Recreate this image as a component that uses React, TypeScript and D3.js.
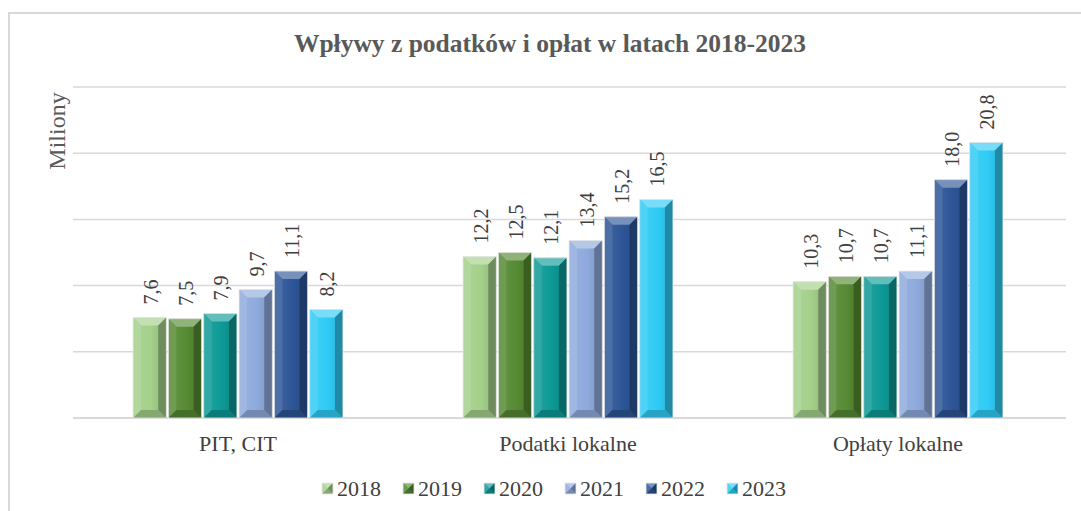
import React from 'react';
import * as d3 from 'd3';

const categories = ['PIT, CIT', 'Podatki lokalne', 'Opłaty lokalne'];
const years = ['2018', '2019', '2020', '2021', '2022', '2023'];
const values2018 = [7.6, 12.2, 10.3];
const values2019 = [7.5, 12.5, 10.7];
const values2020 = [7.9, 12.1, 10.7];
const values2021 = [9.7, 13.4, 11.1];
const values2022 = [11.1, 15.2, 18.0];
const values2023 = [8.2, 16.5, 20.8];
const yTicks = [0, 5, 10, 15, 20, 25];

const series = [values2018, values2019, values2020, values2021, values2022, values2023];
const colors = ['#a3d08a', '#568a33', '#0d9996', '#8eaadc', '#2d5597', '#2fcbf5'];

const W = 1081;
const H = 511;
const font = '"Liberation Serif", "Times New Roman", serif';

const Bar: React.FC<{ x: number; y: number; w: number; h: number; color: string; idx: number }> = ({
  x,
  y,
  w,
  h,
  color,
  idx,
}) => {
  const b = Math.min(8, h / 2, w / 2);
  const c = d3.color(color)!;
  const light = d3.interpolateRgb(color, '#ffffff')(0.35);
  const lighter = d3.interpolateRgb(color, '#ffffff')(0.15);
  const dark = c.darker(0.6).formatHex();
  const darker = c.darker(1.1).formatHex();
  const x2 = x + w;
  const y2 = y + h;
  const pts = (a: number[][]) => a.map((p) => p.join(',')).join(' ');
  return (
    <g>
      <rect x={x} y={y} width={w} height={h} fill={`url(#face${idx})`} />
      <polygon points={pts([[x, y], [x2, y], [x2 - b, y + b], [x + b, y + b]])} fill={light} />
      <polygon points={pts([[x, y], [x + b, y + b], [x + b, y2 - b], [x, y2]])} fill={lighter} />
      <polygon points={pts([[x2, y], [x2, y2], [x2 - b, y2 - b], [x2 - b, y + b]])} fill={darker} />
      <polygon points={pts([[x, y2], [x + b, y2 - b], [x2 - b, y2 - b], [x2, y2]])} fill={dark} />
      <rect x={x} y={y} width={w} height={h} fill="none" stroke="#e8e8e8" strokeWidth={0.8} />
    </g>
  );
};

const App: React.FC = () => {
  const left = 73;
  const right = 1063;
  const top = 87;
  const bottom = 418;

  const x0 = d3.scaleBand<string>().domain(categories).range([left, right]).paddingInner(0.364).paddingOuter(0.182);
  const x1 = d3.scaleBand<string>().domain(years).range([0, x0.bandwidth()]).paddingInner(0.06);
  const y = d3.scaleLinear().domain([0, 25]).range([bottom, top]);

  const legendX = d3.scalePoint<string>().domain(years).range([322, 727]);

  return (
    <svg width={W} height={H} style={{ position: 'absolute', left: 0, top: 0 }} fontFamily={font}>
      <defs>
        {colors.map((col, i) => (
          <linearGradient key={col} id={`face${i}`} x1="0" x2="1" y1="0" y2="0">
            <stop offset="0" stopColor={d3.interpolateRgb(col, '#ffffff')(0.1)} />
            <stop offset="0.55" stopColor={col} />
            <stop offset="1" stopColor={d3.color(col)!.darker(0.4).formatHex()} />
          </linearGradient>
        ))}
      </defs>
      <rect x={0} y={0} width={W} height={H} fill="#ffffff" />
      <path d={`M9,${H} L9,13 L${W},13`} fill="none" stroke="#d9d9d9" strokeWidth={2} />
      <text x={550} y={52} textAnchor="middle" fontSize={25.5} fontWeight="bold" fill="#595959">
        Wpływy  z podatków i opłat w latach 2018-2023
      </text>
      <text transform={`translate(65,131) rotate(-90)`} textAnchor="middle" fontSize={24} fill="#595959">
        Miliony
      </text>
      {yTicks.map((t) => (
        <line key={t} x1={left} x2={1066} y1={y(t)} y2={y(t)} stroke="#d9d9d9" strokeWidth={t === 0 ? 2 : 1.5} />
      ))}
      {categories.map((cat, ci) => (
        <g key={cat}>
          {years.map((yr, si) => {
            const v = series[si][ci];
            const bx = (x0(cat) || 0) + (x1(yr) || 0);
            const by = y(v);
            const bw = x1.bandwidth();
            return (
              <g key={yr}>
                <Bar x={bx} y={by} w={bw} h={y(0) - by} color={colors[si]} idx={si} />
                <text
                  transform={`translate(${bx + bw / 2 + 8},${by - 13}) rotate(-90)`}
                  fontSize={20}
                  fill="#404040"
                >
                  {v.toFixed(1).replace('.', ',')}
                </text>
              </g>
            );
          })}
          <text x={(x0(cat) || 0) + x0.bandwidth() / 2} y={451} textAnchor="middle" fontSize={22} fill="#404040">
            {cat}
          </text>
        </g>
      ))}
      {years.map((yr, si) => (
        <g key={yr} transform={`translate(${legendX(yr)},483)`}>
          <Bar x={0} y={0} w={11} h={11} color={colors[si]} idx={si} />
          <text x={15} y={13} fontSize={22} fill="#404040">
            {yr}
          </text>
        </g>
      ))}
    </svg>
  );
};

export default App;
